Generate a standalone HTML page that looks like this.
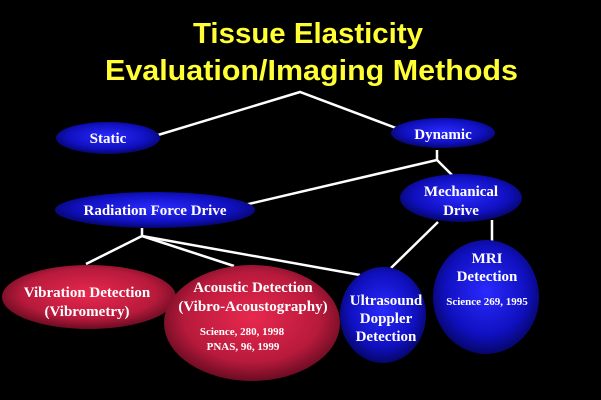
<!DOCTYPE html>
<html><head><meta charset="utf-8"><style>html,body{margin:0;padding:0;background:#000;}svg{display:block}</style></head>
<body>
<svg width="601" height="400" viewBox="0 0 601 400" xmlns="http://www.w3.org/2000/svg">
<defs>
<radialGradient id="b" cx="50%" cy="45%" r="55%"><stop offset="0" stop-color="#2a2aff"/><stop offset="0.7" stop-color="#1010c0"/><stop offset="1" stop-color="#06066a"/></radialGradient>
<radialGradient id="r" cx="50%" cy="45%" r="55%"><stop offset="0" stop-color="#e8284e"/><stop offset="0.7" stop-color="#b81a3c"/><stop offset="1" stop-color="#6a0c22"/></radialGradient>
</defs>
<rect width="601" height="400" fill="#000"/>
<g font-family="Liberation Sans, Arial, sans-serif" font-weight="bold" fill="#ffff33" font-size="29">
<text x="193" y="43" textLength="230" lengthAdjust="spacingAndGlyphs">Tissue Elasticity</text>
<text x="105" y="80" textLength="413" lengthAdjust="spacingAndGlyphs">Evaluation/Imaging Methods</text>
</g>
<g stroke="#fff" stroke-width="2.5" fill="none">
<polyline points="158,135 300,92 396,128"/>
<polyline points="437,150 437,160 240,206"/>
<line x1="437" y1="160" x2="452" y2="175"/>
<line x1="438" y1="222" x2="391" y2="268"/>
<line x1="492" y1="220" x2="492" y2="245"/>
<polyline points="142,228 142,236 86,264"/>
<line x1="142" y1="236" x2="234" y2="266"/>
<line x1="142" y1="236" x2="360" y2="275"/>
</g>
<ellipse cx="108" cy="138" rx="52" ry="16" fill="url(#b)"/>
<ellipse cx="443" cy="133" rx="52" ry="15" fill="url(#b)"/>
<ellipse cx="155" cy="210" rx="100" ry="18" fill="url(#b)"/>
<ellipse cx="461" cy="198" rx="61" ry="24" fill="url(#b)"/>
<ellipse cx="89" cy="297" rx="87" ry="32" fill="url(#r)"/>
<ellipse cx="252" cy="323" rx="88" ry="58" fill="url(#r)"/>
<ellipse cx="383" cy="315" rx="43" ry="48" fill="url(#b)"/>
<ellipse cx="486" cy="297" rx="53" ry="57" fill="url(#b)"/>
<g font-family="Liberation Serif, Times New Roman, serif" font-weight="bold" fill="#fff" font-size="15" text-anchor="middle">
<text x="108" y="143">Static</text>
<text x="443" y="139">Dynamic</text>
<text x="155" y="215">Radiation Force Drive</text>
<text x="461" y="196">Mechanical</text>
<text x="461" y="215">Drive</text>
<text x="87" y="297">Vibration Detection</text>
<text x="87" y="316">(Vibrometry)</text>
<text x="253" y="292">Acoustic Detection</text>
<text x="253" y="311">(Vibro-Acoustography)</text>
<text x="386" y="305">Ultrasound</text>
<text x="386" y="323">Doppler</text>
<text x="386" y="341">Detection</text>
<text x="487" y="263">MRI</text>
<text x="487" y="281">Detection</text>
<g font-size="11">
<text x="242" y="335">Science, 280, 1998</text>
<text x="243" y="350">PNAS, 96, 1999</text>
<text x="487" y="305">Science 269, 1995</text>
</g>
</g>
</svg>
</body></html>
